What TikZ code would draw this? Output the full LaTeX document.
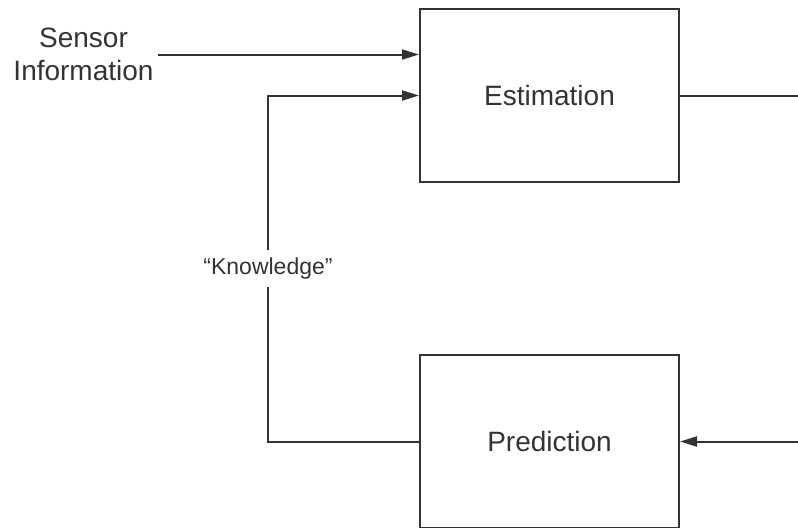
\documentclass[tikz,border=0pt]{standalone}
\usepackage{fontspec}
\setmainfont{Liberation Sans}
\usetikzlibrary{arrows.meta,positioning}

\tikzset{
  block/.style={draw=black!80, line width=1pt, minimum width=129.5pt, minimum height=86.5pt, inner sep=0pt},
  flow/.style={draw=black!80, line width=1pt},
  lbl/.style={text=black!80, align=center, font=\fontsize{14}{16.5}\selectfont}
}

\begin{document}
\begin{tikzpicture}[x=0.5pt, y=-0.5pt, >={Triangle[length=8.5pt,width=5pt]}, every node/.style={lbl}]
  \useasboundingbox (0,0) rectangle (798,527);

  % blocks
  \node[block] (est) at (549.5,95.5) {Estimation};
  \node[block] (pred) at (549.5,441.5) {Prediction};

  % input text
  \node[inner sep=2pt] (sensor) at (83.5,54.5) {Sensor\\Information};

  % free ends at the right border
  \coordinate (outE) at (798,95.5);
  \coordinate (inP) at (798,441.5);

  % connectors
  \draw[flow,->] (sensor.east) -- (sensor.east -| est.west);
  \draw[flow,->] (pred.west) -- ++(-151,0) |- (est.west)
    node[pos=0.25, fill=white, inner sep=4pt, font=\fontsize{11.5}{13}\selectfont] (know) {``Knowledge''};
  \draw[flow] (est.east) -- (outE);
  \draw[flow,->] (inP) -- (pred.east);
\end{tikzpicture}
\end{document}
